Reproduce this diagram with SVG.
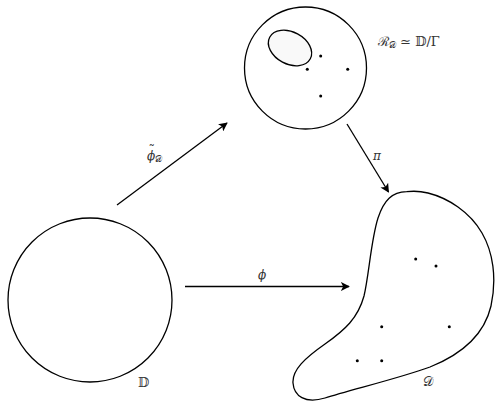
<svg xmlns="http://www.w3.org/2000/svg" width="495" height="402" viewBox="0 0 495 402">
<defs>
<marker id="ah" viewBox="0 0 10 10" refX="9" refY="5" markerWidth="9" markerHeight="9" markerUnits="userSpaceOnUse" orient="auto">
<path d="M0,0 L10,5 L0,10 L2.5,5 Z" fill="#000"/>
</marker>
</defs>
<style>
.sh{fill:#fff;stroke:#000;stroke-width:1.3}
.dot{fill:#000}
.ln{stroke:#000;stroke-width:1.3;fill:none;marker-end:url(#ah)}
.t{font-family:"DejaVu Serif","Liberation Serif",serif;font-size:13px;fill:#333}
.i{font-family:"DejaVu Serif","Liberation Serif",serif;font-style:italic;font-size:12px;fill:#333}
</style>
<rect width="495" height="402" fill="#fff"/>
<g id="disk">
<circle class="sh" cx="90" cy="300" r="82"/>
<text class="t" x="138" y="387">𝔻</text>
</g>
<g id="surface">
<circle class="sh" cx="305.5" cy="68" r="61"/>
<ellipse cx="290" cy="48" rx="23" ry="16" transform="rotate(28 290 48)" fill="#f9f9f9" stroke="#000" stroke-width="1.3"/>
<circle class="dot" cx="320.7" cy="56" r="1.5"/>
<circle class="dot" cx="307.3" cy="69.3" r="1.5"/>
<circle class="dot" cx="347.7" cy="69.3" r="1.5"/>
<circle class="dot" cx="320.7" cy="96" r="1.5"/>
<text class="t" x="378" y="46" font-size="14">ℛ<tspan font-size="9" dy="2">𝒟</tspan><tspan dy="-2"> ≃ 𝔻/Γ</tspan></text>
</g>
<g id="domain">
<path class="sh" d="M406.7,191.7 C392,192 384,200 378,218 C371,240 369,275 364,296 C358,318 345,330 325,344 C305,358 292,370 293,383 C294,396 305,404 325,398 C350,390 400,378 430,367 C460,355 484,336 491,306 C497,278 493,252 482,233 C470,212 448,198 428,193 C420,191 412,191 406.7,191.7 Z"/>
<circle class="dot" cx="415.7" cy="259" r="1.5"/>
<circle class="dot" cx="436" cy="266" r="1.5"/>
<circle class="dot" cx="381.7" cy="326.7" r="1.5"/>
<circle class="dot" cx="449.3" cy="326.7" r="1.5"/>
<circle class="dot" cx="357.3" cy="360.7" r="1.5"/>
<circle class="dot" cx="381.7" cy="360.7" r="1.5"/>
<text class="t" x="423" y="386">𝒟</text>
</g>
<g id="connectors">
<line class="ln" x1="117" y1="205" x2="227" y2="123"/>
<text class="i" x="147" y="160">ϕ<tspan font-size="9" dy="2" font-style="normal">𝒟</tspan></text>
<text class="t" x="148.5" y="154" font-size="9">˜</text>
<line class="ln" x1="347" y1="124" x2="388.5" y2="192"/>
<text class="i" x="373" y="160">π</text>
<line class="ln" x1="185" y1="286.5" x2="349" y2="286.5"/>
<text class="i" x="258" y="279">ϕ</text>
</g>
</svg>
